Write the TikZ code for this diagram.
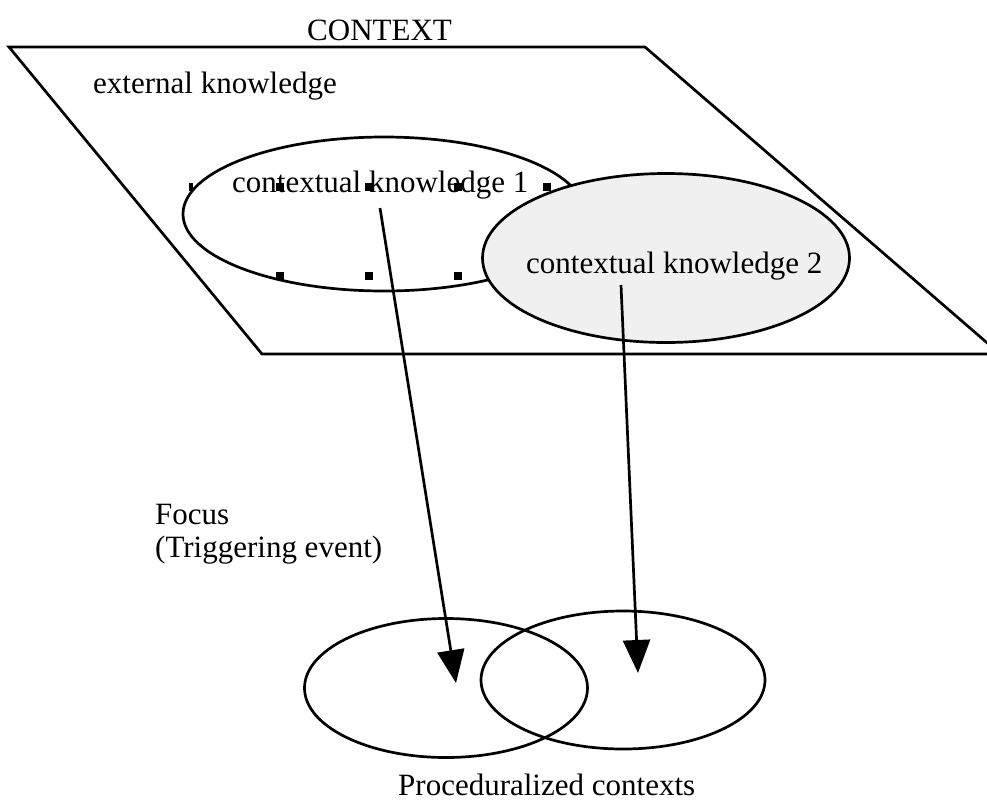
\documentclass[tikz,border=0pt]{standalone}
\usepackage{fontspec}
\setmainfont{Liberation Serif}
\usetikzlibrary{arrows.meta,shapes.geometric}
\definecolor{shade}{HTML}{F0F0F0}
\tikzset{
  line/.style={line width=2.7pt},
  oval/.style={ellipse, line width=2.7pt, draw=black, inner sep=0pt},
  label/.style={font=\fontsize{31}{34}\selectfont, inner sep=0pt, anchor=base west},
  handle/.style={fill=black, draw=none},
  flow/.style={line width=2.7pt, -{Triangle[length=33pt,width=27pt]}}
}
\begin{document}
\begin{tikzpicture}[x=1pt,y=-1pt]
\useasboundingbox (0,0) rectangle (987,801);
\clip (0,0) rectangle (987,801);

% the context plane
\draw[line, line join=miter] (9,47) -- (645,47) -- (1000,354) -- (262,354) -- cycle;
\node[label] (ctx) at (307,40) {CONTEXT};
\node[label] (ext) at (93,93) {external knowledge};

% contextual knowledge 1 with its selection handles
\node[oval, fill=white, minimum width=402pt, minimum height=154pt] (ck1) at (384,214) {};
\foreach \hx in {280,369,458,547}
  \fill[handle] (\hx-4,183) rectangle (\hx+4,191);
\foreach \hx in {280,369,458}
  \fill[handle] (\hx-4,272) rectangle (\hx+4,280);
\fill[handle] (189,183) rectangle (193,191);
\node[label] (ck1t) at (232,192) {contextual knowledge 1};

% contextual knowledge 2
\node[oval, fill=shade, minimum width=367pt, minimum height=169pt] (ck2) at (666,258) {};
\node[label] (ck2t) at (526,273) {contextual knowledge 2};

% proceduralized contexts
\node[oval, minimum width=283pt, minimum height=139pt] (pc1) at (446,688) {};
\node[oval, minimum width=284pt, minimum height=138pt] (pc2) at (623,680) {};
\node[label] (pct) at (398,795) {Proceduralized contexts};

% focus label
\node[label] (focus) at (155,524) {Focus};
\node[label] (trig) at (155,557) {(Triggering event)};

% projections
\coordinate (s1) at (380,208);
\coordinate (e1) at (456,683);
\coordinate (s2) at (621,285);
\coordinate (e2) at (638,673);
\draw[flow] (s1) -- (e1);
\draw[flow] (s2) -- (e2);
\end{tikzpicture}
\end{document}
